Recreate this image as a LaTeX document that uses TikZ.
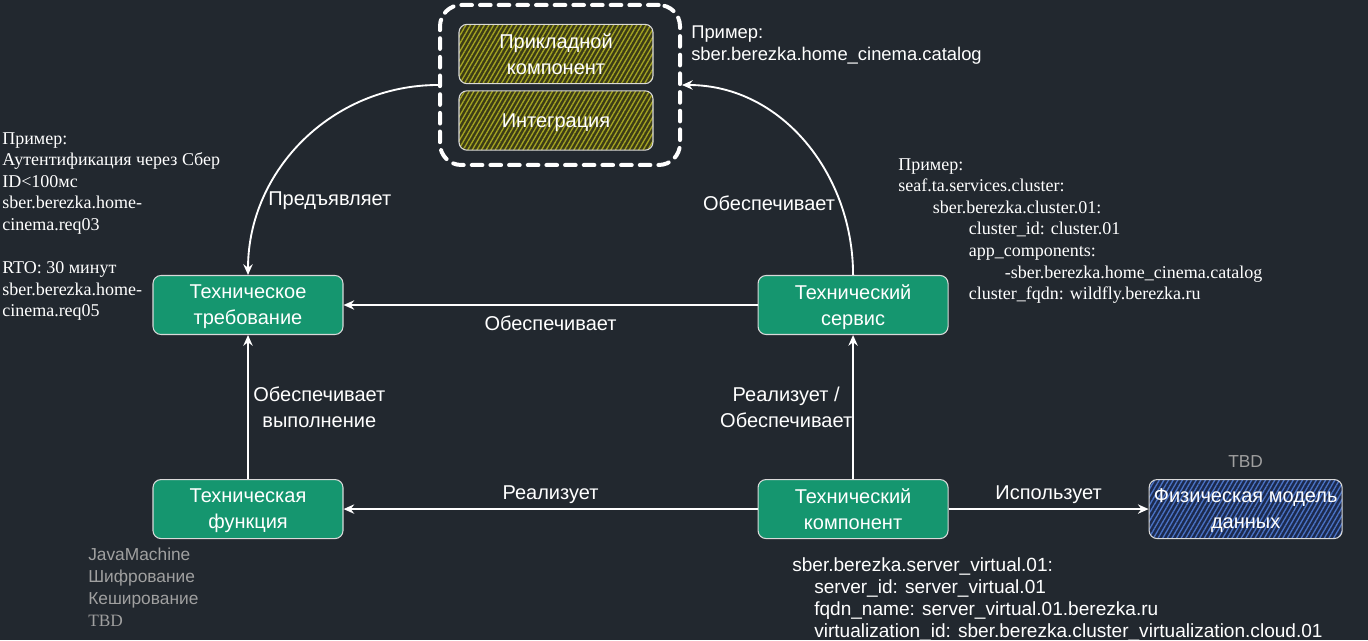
\documentclass[tikz,border=0pt]{standalone}
\usepackage{fontspec}
\setmainfont{Liberation Serif}
\newfontfamily\sketchfont{Liberation Sans}
\usetikzlibrary{arrows.meta, positioning, patterns.meta}

\definecolor{bgdark}{HTML}{22282F}
\definecolor{techgreen}{HTML}{15966F}
\definecolor{olivefill}{HTML}{3C3C16}
\definecolor{olivehatch}{HTML}{A3A322}
\definecolor{bluefill}{HTML}{1C2A4E}
\definecolor{bluehatch}{HTML}{4A72C4}
\definecolor{greytext}{HTML}{A0A0A0}

\begin{document}
\begin{tikzpicture}[
  x=0.75pt, y=0.75pt,
  block/.style    = {draw=white!85!black, line width=0.8pt, rounded corners=6pt, fill=techgreen,
                     text=white, minimum width=142.5pt, minimum height=44.25pt, align=center,
                     inner sep=2pt, text depth=-13pt, font=\sketchfont\fontsize{15}{19.5}\selectfont},
  appbox/.style   = {block, fill=none, preaction={fill=olivefill},
                     pattern={Lines[angle=60, distance=3pt, line width=1pt]}, pattern color=olivehatch,
                     minimum width=145.5pt, minimum height=44.5pt, text depth=-8pt},
  datamodel/.style = {block, fill=none, preaction={fill=bluefill},
                     pattern={Lines[angle=60, distance=3pt, line width=1pt]}, pattern color=bluehatch,
                     minimum width=144.75pt, text depth=-6pt},
  group/.style    = {draw=white, line width=3pt, dash pattern=on 8pt off 6pt, line cap=round,
                     rounded corners=16pt, minimum width=180pt, minimum height=120pt},
  arrow/.style    = {line width=1.4pt, white, -{Stealth[length=8pt, width=7pt]}},
  relation/.style = {text=white, align=center, font=\sketchfont\fontsize{15}{19.5}\selectfont},
  note/.style     = {text=white, align=left, inner sep=0pt, anchor=north west,
                     font=\fontsize{13.5}{16.2}\selectfont},
  sketchnote/.style = {text=white, align=left, inner sep=0pt, anchor=north west,
                     font=\sketchfont\fontsize{13}{16.5}\selectfont}
]
\useasboundingbox (0,0) rectangle (1368,640);
\fill[bgdark] (0,0) rectangle (1368,640);

%--------------------------------------------------
% Application group (dashed)
%--------------------------------------------------
\node[group] (group) at (560,555) {};
\node[appbox] (app) at (556,586) {Прикладной\\компонент};
\node[appbox, text depth=-12pt] (integ) at (556,519.5) {Интеграция};

%--------------------------------------------------
% Technical blocks
%--------------------------------------------------
\node[block] (req) at (248,335) {Техническое\\требование};
\node[block, right=310.5pt of req] (service) {Технический\\сервис};
\node[block, below=108pt of req] (func) {Техническая\\функция};
\node[block] (comp) at (service |- func) {Технический\\компонент};
\node[datamodel, right=150pt of comp] (phys) {Физическая модель\\данных};
\node[relation, text=greytext, above=5pt of phys, font=\sketchfont\fontsize{13}{16}\selectfont] (phys_tbd) {TBD};

%--------------------------------------------------
% Examples
%--------------------------------------------------
\node[sketchnote, font=\sketchfont\fontsize{13.8}{16.5}\selectfont] (ex_app) at (691,614)
  {Пример:\\sber.berezka.home\_cinema.catalog};

\node[note] (ex_req) at (2,508)
  {Пример:\\Аутентификация через Сбер\\ID<100мс\\sber.berezka.home-\\cinema.req03\\[16.2pt]
   RTO: 30 минут\\sber.berezka.home-\\cinema.req05};

\node[note] (ex_service) at (898,482)
  {Пример:\\seaf.ta.services.cluster:\\
   \hspace*{26pt}sber.berezka.cluster.01:\\
   \hspace*{53pt}cluster\_id: cluster.01\\
   \hspace*{53pt}app\_components:\\
   \hspace*{80pt}-sber.berezka.home\_cinema.catalog\\
   \hspace*{53pt}cluster\_fqdn: wildfly.berezka.ru};

\node[sketchnote, text=greytext] (ex_func) at (88,92)
  {JavaMachine\\Шифрование\\Кеширование\\{\rmfamily TBD}};

\node[sketchnote, font=\sketchfont\fontsize{14.3}{16.5}\selectfont] (ex_comp) at (792,83)
  {sber.berezka.server\_virtual.01:\\
   \hspace*{16.5pt}server\_id: server\_virtual.01\\
   \hspace*{16.5pt}fqdn\_name: server\_virtual.01.berezka.ru\\
   \hspace*{16.5pt}virtualization\_id: sber.berezka.cluster\_virtualization.cloud.01};

%--------------------------------------------------
% Connections
%--------------------------------------------------
\draw[arrow] (group.west) to[out=180, in=90]
  node[relation, pos=0.75, right] {Предъявляет} (req.north);
\draw[arrow] (service.north) to[out=90, in=0]
  node[relation, pos=0.25, left] {Обеспечивает} (group.east);

\draw[arrow] (service.west) -- node[relation, below=4pt] {Обеспечивает} (req.east);
\draw[arrow] (func.north) -- node[relation, right] {Обеспечивает\\выполнение} (req.south);
\draw[arrow] (comp.north) -- node[relation, left, inner sep=0pt] {Реализует /\\Обеспечивает} (service.south);
\draw[arrow] (comp.west) -- node[relation, above] {Реализует} (func.east);
\draw[arrow] (comp.east) -- node[relation, above] {Использует} (phys.west);

\end{tikzpicture}
\end{document}
